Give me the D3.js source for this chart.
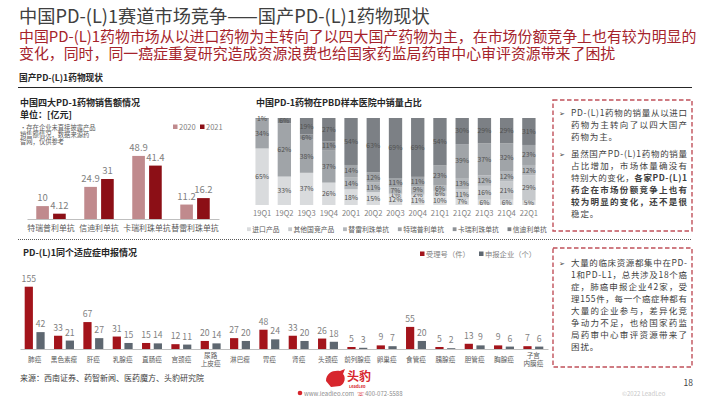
<!DOCTYPE html>
<html>
<head>
<meta charset="utf-8">
<script src="https://cdn.jsdelivr.net/npm/d3@7"></script>
<style>
  body { margin: 0; background: #fff; }
  svg { display: block; font-family: "Noto Sans CJK SC", "Noto Sans", sans-serif; }
</style>
</head>
<body>
<svg id="page" width="710" height="399"></svg>
<script>
// ---- 左图：中国四大PD-1药物销售额 (亿元)
var drugs = ["特瑞普利单抗", "信迪利单抗", "卡瑞利珠单抗", "替雷利珠单抗"];
var years = ["2020", "2021"];
var sales2020 = [10, 24.9, 48.9, 11.2];
var sales2021 = [4.12, 31, 41.4, 16.2];

// ---- 中图：PBD样本医院销量占比 (%)
var quarters = ["19Q1", "19Q2", "19Q3", "19Q4", "20Q1", "20Q2", "20Q3", "20Q4", "21Q1", "21Q2", "21Q3", "21Q4", "22Q1"];
var shareNames = ["进口产品", "其他国竞产品", "替雷利珠单抗", "特瑞普利单抗", "卡瑞利珠单抗", "信迪利单抗"];
var shareImport = [65, 33, 37, 26, 18, 15, 12, 11, 10, 7, 6, 6, 5];
var shareOther = [0, 0, 0, 0, 0, 0, 1, 2, 6, 11, 16, 21, 29];
var shareTis = [0, 0, 0, 0, 14, 11, 7, 9, 6, 13, 12, 12, 12];
var shareTor = [34, 62, 38, 37, 14, 12, 11, 11, 23, 39, 37, 32, 23];
var shareCam = [0, 0, 6, 11, 0, 0, 0, 0, 0, 0, 0, 0, 0];
var shareSin = [1, 6, 19, 27, 54, 63, 69, 69, 54, 30, 29, 29, 31];

// ---- 下图：同个适应症申报情况
var cancers = ["肺癌", "黑色素瘤", "肝癌", "乳腺癌", "直肠癌", "宫颈癌", "尿路上皮癌", "淋巴瘤", "胃癌", "肾癌", "头颈癌", "前列腺癌", "卵巢癌", "食管癌", "胰腺癌", "胆管癌", "胸腺癌", "子宫内膜癌"];
var applyNames = ["受理号（件）", "申报企业（个）"];
var acceptCount = [155, 33, 67, 31, 15, 12, 20, 27, 48, 33, 26, 5, 9, 55, 5, 13, 9, 7];
var companyCount = [42, 21, 27, 15, 14, 11, 14, 20, 24, 20, 18, 3, 7, 20, 2, 9, 6, 6];

var svg = d3.select("#page");

// shrink/grow a text's font so that it spans the given width
function fitWidth(sel, size, target) {
  sel.style("font-size", size + "px");
  var w = sel.node().getComputedTextLength();
  var s = size * target / w;
  sel.style("font-size", s + "px");
  return s;
}

// ---------------- header
var title = svg.append("text").attr("x", 19).attr("y", 23)
  .attr("fill", "#404040")
  .text("中国PD-(L)1赛道市场竞争——国产PD-(L)1药物现状");
fitWidth(title, 17, 411);

var subLines = ["中国PD-(L)1药物市场从以进口药物为主转向了以四大国产药物为主，在市场份额竞争上也有较为明显的",
  "变化，同时，同一癌症重复研究造成资源浪费也给国家药监局药审中心审评资源带来了困扰"];
var subs = svg.selectAll(".sub").data(subLines).enter().append("text")
  .attr("x", 19).attr("y", (d, i) => 41.5 + i * 17)
  .attr("fill", "#a5232b")
  .text(d => d);
var subSize = fitWidth(d3.select(subs.nodes()[0]), 15, 678);
subs.style("font-size", subSize + "px");

var sect = svg.append("text").attr("x", 19).attr("y", 81)
  .attr("fill", "#262626").style("font-weight", "bold")
  .text("国产PD-(L)1药物现状");
fitWidth(sect, 8, 84);
svg.append("line").attr("x1", 18).attr("x2", 692).attr("y1", 87.5).attr("y2", 87.5)
  .attr("stroke", "#262626").attr("stroke-width", 1.2);

// dotted separator
svg.append("line").attr("x1", 18).attr("x2", 692).attr("y1", 239.5).attr("y2", 239.5)
  .attr("stroke", "#595959").attr("stroke-dasharray", "1,1");

// ---------------- left chart
var left = svg.append("g");
left.append("text").attr("x", 20).attr("y", 105.5).attr("fill", "#262626")
  .style("font-size", "9px").style("font-weight", "bold").text("中国四大PD-1药物销售额情况");
left.append("text").attr("x", 20).attr("y", 117.5).attr("fill", "#262626")
  .style("font-size", "9px").style("font-weight", "bold").text("单位：[亿元]");
["•存在企业未直接披露产品", "销售额情况，数据来源药", "智网，仅供参考"].forEach(function (t, i) {
  left.append("text").attr("x", 20).attr("y", 129.5 + i * 7).attr("fill", "#595959")
    .style("font-size", "6.3px").text(t);
});

var salesColor = d3.scaleOrdinal().domain(years).range(["#c08a8d", "#8c0f16"]);
years.forEach(function (yr, i) {
  var lg = left.append("g").attr("transform", `translate(${173 + i * 27},0)`);
  lg.append("rect").attr("x", 0).attr("y", 124.5).attr("width", 4.5).attr("height", 4.5).attr("fill", salesColor(yr));
  lg.append("text").attr("x", 6).attr("y", 129.5).attr("fill", "#7f7f7f").style("font-size", "7.5px").text(yr);
});

var x0 = d3.scaleBand().domain(drugs).range([27, 219]);
var x1 = d3.scaleBand().domain(years).range([0, x0.bandwidth()]).paddingInner(0.25).paddingOuter(0.55);
var ySales = d3.scaleLinear().domain([0, 50]).range([219, 154.5]);
var salesRows = drugs.map((d, i) => ({ drug: d, vals: [sales2020[i], sales2021[i]] }));

var grp = left.selectAll(".sg").data(salesRows).enter().append("g")
  .attr("transform", d => `translate(${x0(d.drug)},0)`);
grp.selectAll("rect").data(d => d.vals.map((v, i) => ({ yr: years[i], v: v }))).enter().append("rect")
  .attr("x", d => x1(d.yr)).attr("width", x1.bandwidth())
  .attr("y", d => ySales(d.v)).attr("height", d => ySales(0) - ySales(d.v))
  .attr("fill", d => salesColor(d.yr));
grp.selectAll("text").data(d => d.vals.map((v, i) => ({ yr: years[i], v: v }))).enter().append("text")
  .attr("x", d => x1(d.yr) + x1.bandwidth() / 2).attr("y", d => ySales(d.v) - 5)
  .attr("text-anchor", "middle").attr("fill", "#7f7f7f").style("font-size", "9.5px")
  .text(d => d.v);

var lAxis = left.append("g").attr("transform", "translate(0,219)")
  .call(d3.axisBottom(x0).tickSize(0).tickPadding(6));
lAxis.select(".domain").attr("stroke", "#bfbfbf");
lAxis.selectAll("text").attr("fill", "#595959").style("font-size", "7.9px")
  .style("font-family", "'Noto Sans CJK SC', sans-serif");

// ---------------- middle chart
var mid = svg.append("g");
mid.append("text").attr("x", 256).attr("y", 106).attr("fill", "#262626")
  .style("font-size", "9px").style("font-weight", "bold").text("中国PD-1药物在PBD样本医院中销量占比");

var shareArrays = [shareImport, shareOther, shareTis, shareTor, shareCam, shareSin];
var shareRows = quarters.map(function (q, i) {
  var r = { quarter: q };
  shareNames.forEach((n, k) => r[n] = shareArrays[k][i]);
  return r;
});
var stack = d3.stack().keys(shareNames).offset(d3.stackOffsetExpand);
var layers = stack(shareRows);
var shareColor = d3.scaleOrdinal().domain(shareNames)
  .range(["#d9dbdd", "#c6c9cc", "#b2b6ba", "#a0a4a8", "#8d9196", "#7c8085"]);
var xq = d3.scaleBand().domain(quarters).range([251, 540]).paddingInner(0.4).paddingOuter(0.2);
var yShare = d3.scaleLinear().domain([0, 1]).range([205, 118]);

var lay = mid.selectAll(".layer").data(layers).enter().append("g")
  .attr("fill", d => shareColor(d.key));
lay.selectAll("rect").data(d => d).enter().append("rect")
  .attr("x", d => xq(d.data.quarter)).attr("width", xq.bandwidth())
  .attr("y", d => yShare(d[1])).attr("height", d => yShare(d[0]) - yShare(d[1]));
lay.selectAll("text").data(d => d.map(p => ({ p: p, key: d.key }))).enter()
  .filter(d => d.p.data[d.key] > 0)
  .append("text")
  .attr("x", d => xq(d.p.data.quarter) + xq.bandwidth() / 2)
  .attr("y", d => (yShare(d.p[0]) + yShare(d.p[1])) / 2 + 2.4)
  .attr("text-anchor", "middle").attr("fill", "#505050").style("font-size", "6.8px")
  .text(d => d.p.data[d.key] + "%");

var mAxis = mid.append("g").attr("transform", "translate(0,205)")
  .call(d3.axisBottom(xq).tickSize(0).tickPadding(6));
mAxis.select(".domain").remove();
mAxis.selectAll("text").attr("fill", "#7f7f7f").style("font-size", "7.6px")
  .style("font-family", "'Noto Sans CJK SC', sans-serif");

// legend (spread over 247..547)
var mLeg = mid.append("g");
var legItems = mLeg.selectAll("g").data(shareNames).enter().append("g");
legItems.append("rect").attr("width", 3.8).attr("height", 3.8).attr("y", 227.3).attr("fill", d => shareColor(d));
legItems.append("text").attr("x", 5.3).attr("y", 232).attr("fill", "#595959").style("font-size", "6.8px").text(d => d);
var widths = [];
legItems.each(function () { widths.push(this.getBBox().width); });
var gap = (547 - 247 - d3.sum(widths)) / (shareNames.length - 1);
var cx = 247;
legItems.attr("transform", function (d, i) { var t = `translate(${cx},0)`; cx += widths[i] + gap; return t; });

// ---------------- right boxes
function textBox(y0, y1, lines, baseY, lineH, gapAfter) {
  svg.append("rect").attr("x", 553).attr("y", y0).attr("width", 139).attr("height", y1 - y0)
    .attr("fill", "none").attr("stroke", "#c0505a").attr("stroke-width", 1.4).attr("stroke-dasharray", "4.5,2.5");
  var y = baseY;
  lines.forEach(function (ln, i) {
    if (ln.bullet && i > 0) y += gapAfter;
    if (ln.bullet) {
      svg.append("text").attr("x", 559).attr("y", y).attr("fill", "#404040")
        .style("font-size", "7px").style("font-family", "'DejaVu Sans', sans-serif").text("➢");
    }
    var t = svg.append("text").attr("x", 571).attr("y", y).attr("fill", "#404040").style("font-size", "8.5px");
    ln.parts.forEach(function (p) {
      t.append("tspan").style("font-weight", p.b ? "bold" : "normal").text(p.t);
    });
    var n = ln.parts.map(p => p.t).join("").length;
    var w = t.node().getComputedTextLength();
    if (ln.full) t.style("letter-spacing", ((116 - w) / (n - 1)) + "px");
    else t.style("letter-spacing", "0.9px");
    y += lineH;
  });
}
textBox(100, 231, [
  { bullet: true, full: true, parts: [{ t: "PD-(L)1药物的销量从以进口" }] },
  { full: true, parts: [{ t: "药物为主转向了以四大国产" }] },
  { parts: [{ t: "药物为主。" }] },
  { bullet: true, full: true, parts: [{ t: "虽然国产PD-(L)1药物的销量" }] },
  { full: true, parts: [{ t: "占比增加，市场体量确没有" }] },
  { full: true, parts: [{ t: "特别大的变化，" }, { t: "各家PD-(L)1", b: true }] },
  { full: true, parts: [{ t: "药企在市场份额竞争上也有", b: true }] },
  { full: true, parts: [{ t: "较为明显的变化，还不是很", b: true }] },
  { parts: [{ t: "稳定。" }] }
], 116, 12, 5);
textBox(248, 367, [
  { bullet: true, full: true, parts: [{ t: "大量的临床资源都集中在PD-" }] },
  { full: true, parts: [{ t: "1和PD-L1，总共涉及18个癌" }] },
  { full: true, parts: [{ t: "症，肺癌申报企业42家，受" }] },
  { full: true, parts: [{ t: "理155件，每一个癌症种都有" }] },
  { full: true, parts: [{ t: "大量的企业参与，差异化竞" }] },
  { full: true, parts: [{ t: "争动力不足，也给国家药监" }] },
  { full: true, parts: [{ t: "局药审中心审评资源带来了" }] },
  { parts: [{ t: "困扰。" }] }
], 266, 12, 0);

// ---------------- bottom chart
var bot = svg.append("g");
bot.append("text").attr("x", 23).attr("y", 256).attr("fill", "#262626")
  .style("font-size", "9px").style("font-weight", "bold").text("PD-(L)1同个适应症申报情况");

var applyColor = d3.scaleOrdinal().domain(applyNames).range(["#a3141b", "#5e6770"]);
applyNames.forEach(function (n, i) {
  var lg = bot.append("g").attr("transform", `translate(${420 + i * 59},0)`);
  lg.append("rect").attr("y", 251.5).attr("width", 4.5).attr("height", 4.5).attr("fill", applyColor(n));
  lg.append("text").attr("x", 6).attr("y", 256.5).attr("fill", "#7f7f7f").style("font-size", "7.3px").text(n);
});

var bx0 = d3.scaleBand().domain(cancers).range([20, 548]);
var bx1 = d3.scaleBand().domain(applyNames).range([0, bx0.bandwidth()]).paddingInner(0.3).paddingOuter(0.4);
var yApply = d3.scaleLinear().domain([0, 160]).range([349, 284.7]);
var applyRows = cancers.map((c, i) => ({ c: c, vals: [acceptCount[i], companyCount[i]] }));

var bg = bot.selectAll(".bg").data(applyRows).enter().append("g")
  .attr("transform", d => `translate(${bx0(d.c)},0)`);
bg.selectAll("rect").data(d => d.vals.map((v, i) => ({ k: applyNames[i], v: v }))).enter().append("rect")
  .attr("x", d => bx1(d.k)).attr("width", bx1.bandwidth())
  .attr("y", d => yApply(d.v)).attr("height", d => yApply(0) - yApply(d.v))
  .attr("fill", d => applyColor(d.k));
bg.selectAll("text").data(d => d.vals.map((v, i) => ({ k: applyNames[i], v: v }))).enter().append("text")
  .attr("x", d => bx1(d.k) + bx1.bandwidth() / 2).attr("y", d => yApply(d.v) - 5)
  .attr("text-anchor", "middle").attr("fill", "#7f7f7f").style("font-size", "8.7px")
  .text(d => d.v);

var bAxis = bot.append("g").attr("transform", "translate(0,349)")
  .call(d3.axisBottom(bx0).tickSize(0).tickPadding(0).tickFormat(""));
bAxis.select(".domain").attr("stroke", "#bfbfbf");
bAxis.selectAll(".tick").each(function (d) {
  var t = d3.select(this).append("text").attr("text-anchor", "middle").attr("fill", "#595959")
    .style("font-size", "6.6px").style("font-family", "'Noto Sans CJK SC', sans-serif");
  if (d.length >= 5) {
    t.append("tspan").attr("x", 0).attr("y", 8.5).text(d.slice(0, 2));
    t.append("tspan").attr("x", 0).attr("y", 17).text(d.slice(2));
  } else {
    t.attr("y", 12.5).text(d);
  }
});

// ---------------- footer
svg.append("text").attr("x", 20).attr("y", 380.5).attr("fill", "#404040").style("font-size", "8px")
  .text("来源：西南证券、药智新闻、医药魔方、头豹研究院");

var logo = svg.append("g");
logo.append("path").attr("d", "M326,381 C326,373 333,370 340,371 L345,369 L343,374 C346,377 345,384 340,386 L331,387 Z")
  .attr("fill", "#d7262d");
logo.append("text").attr("x", 347).attr("y", 381).attr("fill", "#d7262d")
  .style("font-size", "12px").style("font-weight", "bold").text("头豹");
logo.append("text").attr("x", 349).attr("y", 387.5).attr("fill", "#d7262d")
  .style("font-size", "4px").style("font-weight", "bold").text("LeadLeo");
logo.append("circle").attr("cx", 300).attr("cy", 393).attr("r", 2.3).attr("fill", "#d7262d");
logo.append("text").attr("x", 304).attr("y", 395.5).attr("fill", "#8c8c8c").style("font-size", "6px").text("www.leadleo.com");
logo.append("text").attr("x", 357).attr("y", 395.5).attr("fill", "#d7262d").style("font-size", "6px")
  .style("font-family", "'DejaVu Sans', sans-serif").text("☏");
logo.append("text").attr("x", 365).attr("y", 395.5).attr("fill", "#8c8c8c").style("font-size", "6px").text("400-072-5588");

svg.append("text").attr("x", 693).attr("y", 386).attr("text-anchor", "end").attr("fill", "#404040")
  .style("font-size", "8.5px").text("18");
svg.append("text").attr("x", 622).attr("y", 395.5).attr("fill", "#c8c8c8").style("font-size", "6px")
  .text("©2022 LeadLeo");
</script>
</body>
</html>
